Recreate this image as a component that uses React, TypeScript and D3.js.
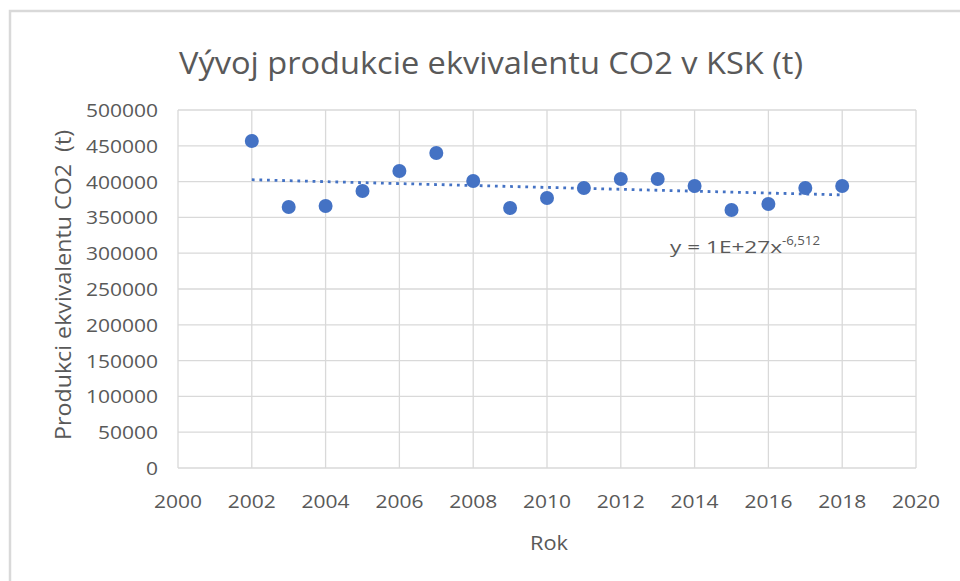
import * as d3 from "d3";
import { useEffect, useRef } from "react";

// hodnoty odčítané z grafu
const years = [2002, 2003, 2004, 2005, 2006, 2007, 2008, 2009, 2010, 2011, 2012, 2013, 2014, 2015, 2016, 2017, 2018];
const values = [456700, 364500, 366000, 386900, 414800, 440000, 400800, 363100, 377100, 391100, 403600, 403600, 393900, 360300, 368700, 391100, 393900];
const xTicks = [2000, 2002, 2004, 2006, 2008, 2010, 2012, 2014, 2016, 2018, 2020];
const yTicks = [0, 50000, 100000, 150000, 200000, 250000, 300000, 350000, 400000, 450000, 500000];

const title = "Vývoj produkcie ekvivalentu CO2 v KSK (t)";
const xTitle = "Rok";
const yTitle = "Produkci ekvivalentu CO2  (t)";

const W = 960;
const H = 581;
const blue = "#4472C4";
const gray = "#595959";
const font = "'Open Sans', sans-serif";

const App = () => {
  const svgRef = useRef(null);

  useEffect(() => {
    document.body.style.margin = "0";

    const svg = d3.select(svgRef.current).attr("width", W).attr("height", H);
    svg.selectAll("*").remove();

    svg.append("rect").attr("width", W).attr("height", H).attr("fill", "#fff");
    // okraj grafu
    svg
      .append("rect")
      .attr("x", 10)
      .attr("y", 11)
      .attr("width", W + 20)
      .attr("height", H + 20)
      .attr("fill", "none")
      .attr("stroke", "#d9d9d9")
      .attr("stroke-width", 2.5);

    const x = d3.scaleLinear().domain([2000, 2020]).range([178, 916]);
    const y = d3.scaleLinear().domain([0, 500000]).range([468, 110]);

    // mriežka
    svg
      .append("g")
      .selectAll("line")
      .data(yTicks)
      .enter()
      .append("line")
      .attr("x1", x(2000))
      .attr("x2", x(2020))
      .attr("y1", (d) => y(d))
      .attr("y2", (d) => y(d))
      .attr("stroke", "#d9d9d9")
      .attr("stroke-width", 1.3);

    svg
      .append("g")
      .selectAll("line")
      .data(xTicks)
      .enter()
      .append("line")
      .attr("x1", (d) => x(d))
      .attr("x2", (d) => x(d))
      .attr("y1", y(0))
      .attr("y2", y(500000))
      .attr("stroke", "#d9d9d9")
      .attr("stroke-width", 1.3);

    // popisy osí (úzke písmo ako Calibri)
    svg
      .append("g")
      .selectAll("text")
      .data(yTicks)
      .enter()
      .append("text")
      .attr("x", 158)
      .attr("y", (d) => y(d) + 7)
      .attr("text-anchor", "end")
      .attr("font-family", font)
      .attr("font-size", 18.5)
      .attr("textLength", (d) => String(d).length * 12)
      .attr("lengthAdjust", "spacingAndGlyphs")
      .attr("fill", gray)
      .text((d) => d);

    svg
      .append("g")
      .selectAll("text")
      .data(xTicks)
      .enter()
      .append("text")
      .attr("x", (d) => x(d))
      .attr("y", 508)
      .attr("text-anchor", "middle")
      .attr("font-family", font)
      .attr("font-size", 18.5)
      .attr("textLength", 48)
      .attr("lengthAdjust", "spacingAndGlyphs")
      .attr("fill", gray)
      .text((d) => d);

    svg
      .append("text")
      .attr("x", 491)
      .attr("y", 74)
      .attr("text-anchor", "middle")
      .attr("font-family", font)
      .attr("font-size", 31)
      .attr("textLength", 624)
      .attr("lengthAdjust", "spacingAndGlyphs")
      .attr("fill", gray)
      .text(title);

    svg
      .append("text")
      .attr("x", 549)
      .attr("y", 550)
      .attr("text-anchor", "middle")
      .attr("font-family", font)
      .attr("font-size", 20)
      .attr("textLength", 38)
      .attr("lengthAdjust", "spacingAndGlyphs")
      .attr("fill", gray)
      .text(xTitle);

    svg
      .append("text")
      .attr("transform", "translate(71, 285) rotate(-90)")
      .attr("text-anchor", "middle")
      .attr("font-family", font)
      .attr("font-size", 21)
      .attr("textLength", 310)
      .attr("lengthAdjust", "spacingAndGlyphs")
      .attr("fill", gray)
      .attr("xml:space", "preserve")
      .style("white-space", "pre")
      .text(yTitle);

    // mocninová spojnica trendu: ln y = ln a + b ln x
    const lx = years.map((d) => Math.log(d));
    const ly = values.map((d) => Math.log(d));
    const mx = d3.mean(lx);
    const my = d3.mean(ly);
    const b = d3.sum(lx, (d, i) => (d - mx) * (ly[i] - my)) / d3.sum(lx, (d) => (d - mx) * (d - mx));
    const lnA = my - b * mx;
    const trend = years.map((d) => [d, Math.exp(lnA + b * Math.log(d))]);

    const line = d3
      .line()
      .x((d) => x(d[0]))
      .y((d) => y(d[1]));

    svg
      .append("path")
      .attr("d", line(trend))
      .attr("fill", "none")
      .attr("stroke", blue)
      .attr("stroke-width", 2.8)
      .attr("stroke-dasharray", "2.8 4.8");

    // body
    svg
      .append("g")
      .selectAll("circle")
      .data(years)
      .enter()
      .append("circle")
      .attr("cx", (d) => x(d))
      .attr("cy", (d, i) => y(values[i]))
      .attr("r", 7)
      .attr("fill", blue);

    const eq = svg
      .append("text")
      .attr("x", 670)
      .attr("y", 253)
      .attr("font-family", font)
      .attr("font-size", 17)
      .attr("fill", gray);
    eq.append("tspan").attr("textLength", 112).attr("lengthAdjust", "spacingAndGlyphs").text("y = 1E+27x");
    eq.append("tspan").attr("dy", -8).attr("font-size", 13).attr("textLength", 38).attr("lengthAdjust", "spacingAndGlyphs").text("-6,512");
  }, []);

  return <svg ref={svgRef}></svg>;
};

export default App;
